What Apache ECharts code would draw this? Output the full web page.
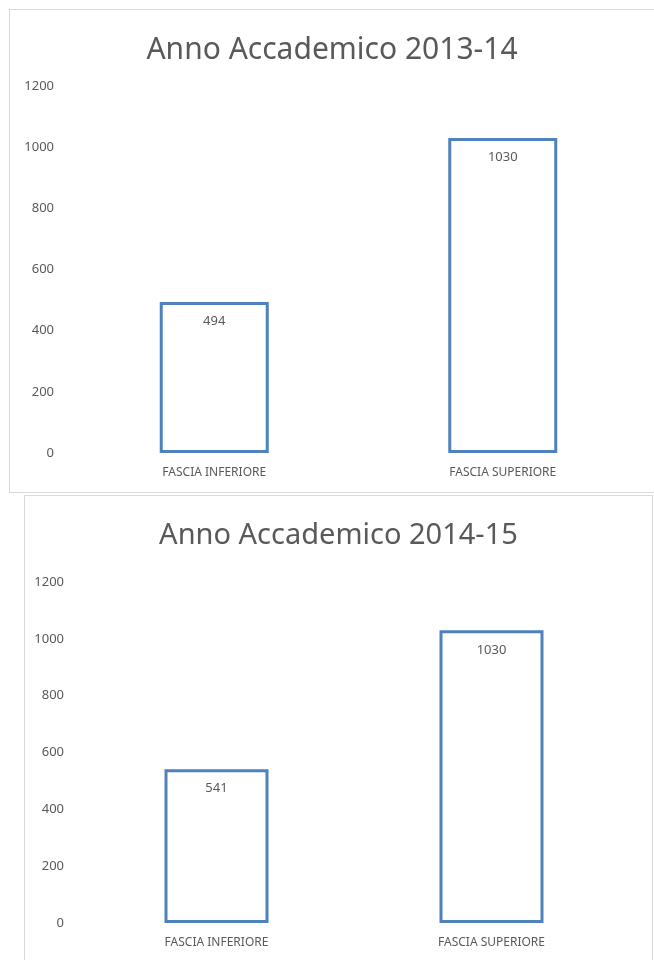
<!DOCTYPE html>
<html>
<head>
<meta charset="utf-8">
<title>Anno Accademico</title>
<script src="https://cdn.jsdelivr.net/npm/echarts@6/dist/echarts.min.js"></script>
<style>
    html, body { margin: 0; padding: 0; background: #fff; }
    body { width: 654px; height: 960px; position: relative; overflow: hidden; }
    .box { position: absolute; box-sizing: border-box; border: 1px solid #d9d9d9; background: #fff; }
    #chart1 { left: 9px; top: 9px; width: 646px; height: 484px; }
    #chart2 { left: 24px; top: 495px; width: 629px; height: 480px; }
</style>
</head>
<body>
    <!-- 2013-14 -->
    <div id="chart1" class="box"></div>
    <!-- 2014-15 -->
    <div id="chart2" class="box"></div>

<script>
    // dati
    var categories = ['FASCIA INFERIORE', 'FASCIA SUPERIORE'];
    var values1314 = [494, 1030];
    var values1415 = [541, 1030];
    var yMin = 0, yMax = 1200, yStep = 200;

    var textColor = '#595959';
    var barColor = '#4f81bd';
    var font = 'Noto Sans';

    function makeOption(title, titleSize, grid, barWidth, labelMargin, values) {
        return {
            animation: false,
            title: {
                text: title,
                left: 'center',
                top: 20,
                textStyle: { fontFamily: font, fontSize: titleSize, fontWeight: 'normal', color: textColor }
            },
            grid: grid,
            xAxis: {
                type: 'category',
                data: categories,
                axisLine: { show: false },
                axisTick: { show: false },
                axisLabel: { margin: 14, fontFamily: font, fontSize: 12, color: textColor }
            },
            yAxis: {
                type: 'value',
                min: yMin,
                max: yMax,
                interval: yStep,
                axisLine: { show: false },
                axisTick: { show: false },
                splitLine: { show: false },
                axisLabel: {
                    margin: labelMargin, fontFamily: font, fontSize: 13, color: textColor,
                    formatter: function (v) { return String(v); }
                }
            },
            series: [
                {
                    type: 'bar',
                    data: values,
                    barWidth: barWidth,
                    itemStyle: { color: '#fff', borderColor: barColor, borderWidth: 3 },
                    label: {
                        show: true,
                        position: 'insideTop',
                        distance: 13,
                        fontFamily: font,
                        fontSize: 13,
                        color: textColor
                    }
                }
            ]
        };
    }

    var c1 = echarts.init(document.getElementById('chart1'));
    c1.setOption(makeOption('Anno Accademico 2013-14', 30,
        { left: 60, right: 7, top: 76, bottom: 39, containLabel: false }, 109, 16, values1314));

    var c2 = echarts.init(document.getElementById('chart2'));
    c2.setOption(makeOption('Anno Accademico 2014-15', 29,
        { left: 54, right: 23, top: 86, bottom: 51, containLabel: false }, 104, 15, values1415));
</script>
</body>
</html>
